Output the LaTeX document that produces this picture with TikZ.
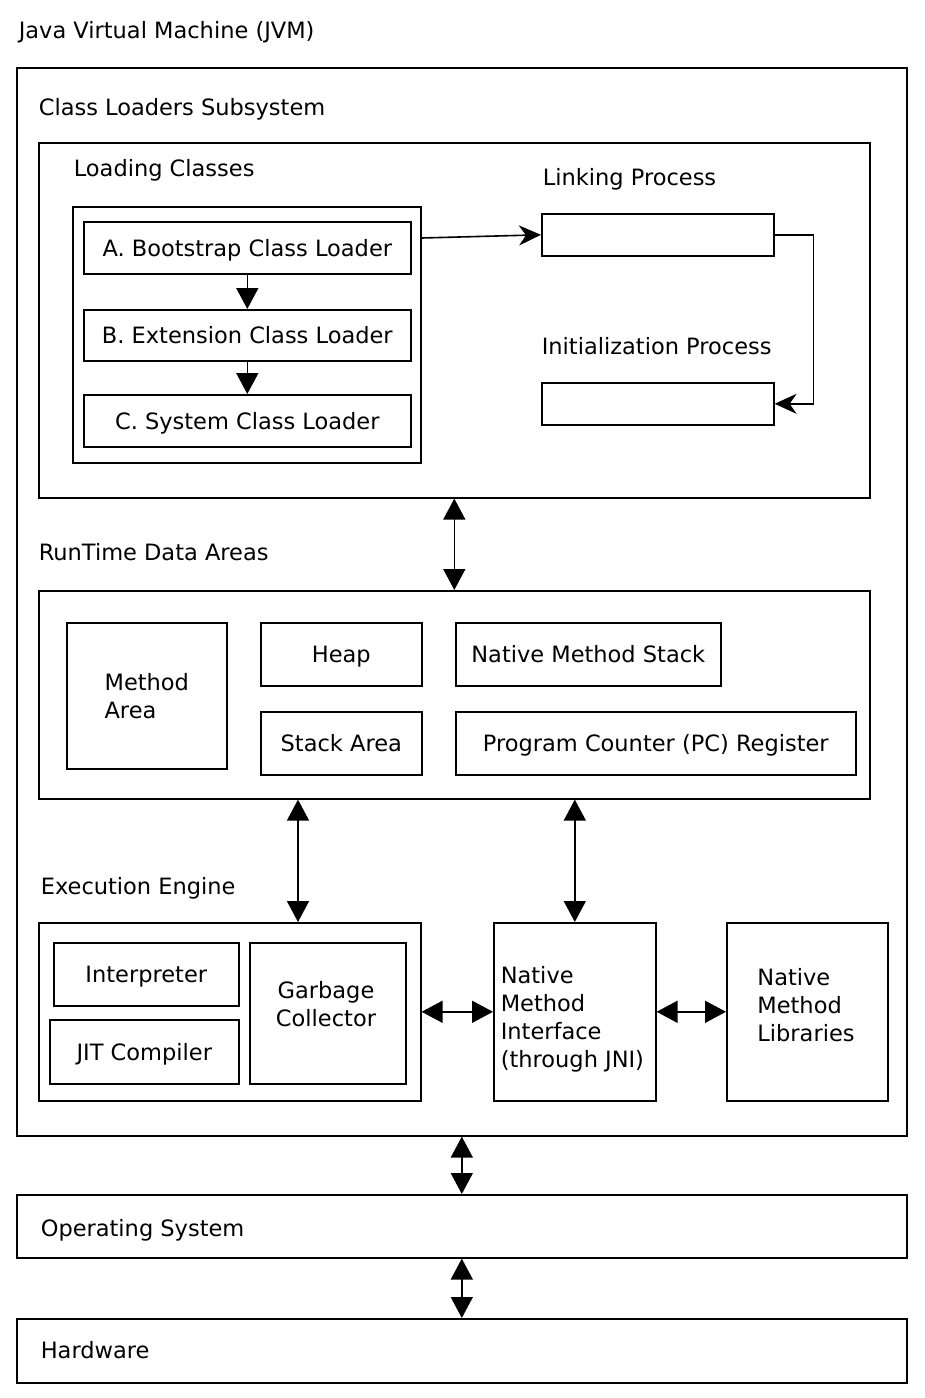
\documentclass[tikz,border=0pt]{standalone}
\usepackage{fontspec}
\setmainfont{DejaVu Sans}
\usetikzlibrary{arrows.meta}
\begin{document}
\begin{tikzpicture}[x=1pt,y=-1pt, line width=1.6pt,
  font=\fontsize{22.5}{28}\selectfont,
  box/.style={draw, inner sep=0pt, anchor=north west},
  sbox/.style={box, text height=17pt, text depth=0pt},
  lbl/.style={anchor=base west, inner sep=0pt},
  txt/.style={inner sep=0pt},
  tri/.style={-{Triangle[length=21pt,width=22pt]}},
  dbl/.style={{Triangle[length=21pt,width=22pt]}-{Triangle[length=21pt,width=22pt]}},
  stl/.style={-{Stealth[length=22pt,width=20pt,inset=7pt]}}]
\useasboundingbox (0,0) rectangle (924,1398);

\node[lbl] (title) at (18,38) {Java Virtual Machine (JVM)};
\node[box, minimum width=890, minimum height=1068] (jvm) at (16,67) {};

% Class loaders subsystem
\node[lbl] (clsT) at (38,115) {Class Loaders Subsystem};
\node[box, minimum width=831, minimum height=355] (cls) at (38,142) {};
\node[lbl] (ldT) at (73,176) {Loading Classes};
\node[box, minimum width=348, minimum height=256] (ld) at (72,206) {};
\node[sbox, minimum width=327, minimum height=52] (boot) at (83,221) {A. Bootstrap Class Loader};
\node[sbox, minimum width=327, minimum height=51] (ext) at (83,309) {B. Extension Class Loader};
\node[sbox, minimum width=327, minimum height=52] (sys) at (83,394) {C. System Class Loader};
\draw[tri] (boot) -- (ext);
\draw[tri] (ext) -- (sys);

\node[lbl] (lnkT) at (542,185) {Linking Process};
\node[box, minimum width=232, minimum height=42] (lnk) at (541,213) {};
\node[lbl] (iniT) at (541,354) {Initialization Process};
\node[box, minimum width=232, minimum height=42] (ini) at (541,382) {};
\draw[stl] ([yshift=-32pt]ld.north east) -- (lnk.west);
\draw[stl] (lnk.east) -- ++(39,0) |- (ini.east);

% Runtime data areas
\node[lbl] (rtT) at (38,560) {RunTime Data Areas};
\node[box, minimum width=831, minimum height=208] (rt) at (38,590) {};
\draw[dbl] (cls.south) -- (rt.north);
\node[box, minimum width=160, minimum height=146, align=left] (ma) at (66,622) {Method\\Area};
\node[sbox, minimum width=161, minimum height=63] (heap) at (260,622) {Heap};
\node[sbox, minimum width=161, minimum height=63] (stk) at (260,711) {Stack Area};
\node[sbox, minimum width=265, minimum height=63] (nms) at (455,622) {Native Method Stack};
\node[sbox, minimum width=400, minimum height=63] (pc) at (455,711) {Program Counter (PC) Register};

% Execution engine
\node[lbl] (eeT) at (40,894) {Execution Engine};
\node[box, minimum width=382, minimum height=178] (ee) at (38,922) {};
\node[sbox, minimum width=185, minimum height=63] (interp) at (53,942) {Interpreter};
\node[sbox, minimum width=189, minimum height=64] (jit) at (49,1019) {JIT Compiler};
\node[box, minimum width=156, minimum height=141] (gc) at (249,942) {};
\node[txt, align=center] (gcT) at (326,1004) {Garbage\\Collector};

\node[box, minimum width=162, minimum height=178] (nmi) at (493,922) {};
\node[txt, anchor=west, align=left] (nmiT) at (500,1019) {Native\\Method\\Interface\\(through JNI)};
\node[box, minimum width=161, minimum height=178] (nml) at (726,922) {};
\node[txt, align=left] (nmlT) at (806,1005) {Native\\Method\\Libraries};

\draw[dbl] ([xshift=260pt]rt.south west) -- ([xshift=260pt]rt.south west |- ee.north);
\draw[dbl] (rt.south -| nmi) -- (nmi.north);
\draw[dbl] (ee.east) -- (nmi.west);
\draw[dbl] (nmi.east) -- (nml.west);

% OS and hardware
\node[box, minimum width=890, minimum height=63] (os) at (16,1194) {};
\node[lbl] (osT) at (40,1236) {Operating System};
\node[box, minimum width=890, minimum height=64] (hw) at (16,1318) {};
\node[lbl] (hwT) at (40,1358) {Hardware};
\draw[dbl] (jvm.south) -- (os.north);
\draw[dbl] (os.south) -- (hw.north);
\end{tikzpicture}
\end{document}
